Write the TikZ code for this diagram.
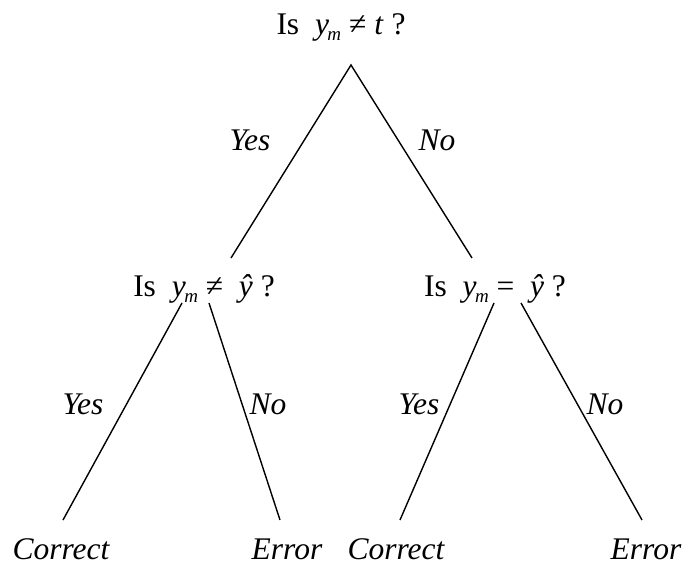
\documentclass[tikz,border=0pt]{standalone}
\usepackage{fontspec}
\setmainfont{Liberation Serif}
\newcommand{\subm}{\kern-1.5pt\raisebox{-0.4ex}{\fontsize{19}{19}\selectfont\itshape m}}
\begin{document}
\begin{tikzpicture}[x=1pt,y=-1pt,
  lbl/.style={anchor=base,inner sep=0pt,font=\fontsize{31.5}{36}\selectfont},
  ilbl/.style={lbl,font=\fontsize{31.5}{36}\selectfont\itshape},
  br/.style={line width=1.4pt}]
\useasboundingbox (0,0) rectangle (689,569);
\node[lbl] (q1) at (341,35) {Is\ \ \textit{y}\subm\ ≠ \textit{t} ?};
\node[lbl] (q2) at (204,297) {Is\ \ \textit{y}\subm\ ≠\ \ \textit{ŷ} ?};
\node[lbl] (q3) at (495,297) {Is\ \ \textit{y}\subm\ =\ \ \textit{ŷ} ?};
\node[ilbl] (y1) at (250,151) {Yes};
\node[ilbl] (n1) at (437,151) {No};
\node[ilbl] (y2) at (83,415) {Yes};
\node[ilbl] (n2) at (268,415) {No};
\node[ilbl] (y3) at (419,415) {Yes};
\node[ilbl] (n3) at (605,415) {No};
\node[ilbl] (l1) at (61,559) {Correct};
\node[ilbl] (l2) at (287,559) {Error};
\node[ilbl] (l3) at (396,559) {Correct};
\node[ilbl] (l4) at (646,559) {Error};
\coordinate (a0) at (351,65);
\coordinate (a1) at (231,258);
\coordinate (a2) at (472,258);
\coordinate (b0) at (182,303);
\coordinate (b1) at (63,520);
\coordinate (b2) at (209,303);
\coordinate (b3) at (280,520);
\coordinate (c0) at (494,303);
\coordinate (c1) at (400,520);
\coordinate (c2) at (521,303);
\coordinate (c3) at (642,520);
\draw[br] (a1) -- (a0) -- (a2);
\draw[br] (b0) -- (b1);
\draw[br] (b2) -- (b3);
\draw[br] (c0) -- (c1);
\draw[br] (c2) -- (c3);
\end{tikzpicture}
\end{document}
